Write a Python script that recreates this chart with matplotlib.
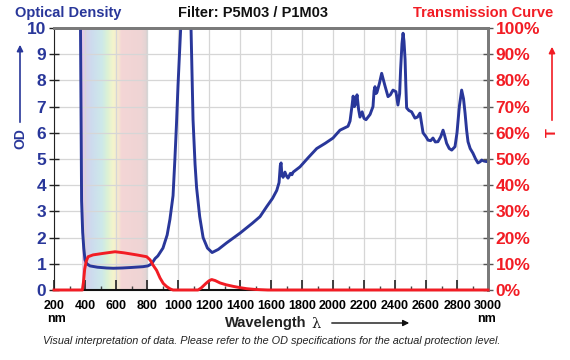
import numpy as np
import matplotlib
matplotlib.use("Agg")
import matplotlib.pyplot as plt
from matplotlib.colors import LinearSegmentedColormap
from matplotlib.patches import FancyArrowPatch

plt.rcParams['font.family'] = ['Liberation Sans', 'DejaVu Sans']

# optical density curve (nm, OD)
od_nm = [365, 371, 378, 385, 392, 400, 412, 432, 480, 540, 582, 640, 700, 774, 806, 830, 852,
         870, 903, 930, 948, 968, 980, 990, 1000, 1017, 1050, 1084, 1097, 1110, 1120, 1140, 1162,
         1190, 1220, 1260, 1314, 1400, 1480, 1529, 1572, 1610, 1637, 1652, 1660, 1665, 1670, 1678,
         1690, 1700, 1710, 1725, 1735, 1743, 1787, 1840, 1895, 1950, 2000, 2045, 2080, 2097, 2110,
         2122, 2130, 2138, 2146, 2155, 2165, 2174, 2188, 2200, 2213, 2239, 2258, 2265, 2271, 2278,
         2284, 2300, 2314, 2335, 2355, 2370, 2387, 2406, 2419, 2430, 2436, 2445, 2452, 2458, 2465,
         2470, 2475, 2490, 2507, 2529, 2545, 2561, 2570, 2581, 2600, 2613, 2630, 2645, 2660, 2677,
         2695, 2710, 2720, 2733, 2750, 2766, 2787, 2800, 2815, 2830, 2842, 2852, 2862, 2871, 2885,
         2903, 2920, 2935, 2950, 2959, 2975, 2991, 3000]
od_val = [14, 10, 3.4, 2.2, 1.6, 1.15, 1.0, 0.92, 0.87, 0.84, 0.83, 0.84, 0.86, 0.89, 0.92, 1.0, 1.2,
          1.3, 1.6, 2.1, 2.7, 3.6, 5.0, 6.3, 7.8, 10, 14, 10, 6.5, 4.8, 3.9, 2.8, 2.0,
          1.6, 1.43, 1.55, 1.8, 2.17, 2.55, 2.8, 3.18, 3.5, 3.8, 4.1, 4.75, 4.85, 4.4, 4.3,
          4.5, 4.35, 4.27, 4.45, 4.4, 4.5, 4.7, 5.05, 5.4, 5.6, 5.8, 6.1, 6.2, 6.25, 6.45,
          7.0, 7.4, 7.0, 7.1, 7.45, 6.9, 6.6, 6.8, 6.55, 6.5, 6.7, 7.0, 7.6, 7.76, 7.5,
          7.55, 7.9, 8.27, 7.8, 7.38, 7.45, 7.63, 7.57, 7.06, 7.5, 8.4, 9.4, 9.8, 9.5, 8.8,
          7.8, 6.95, 6.85, 6.8, 6.56, 6.6, 6.75, 6.4, 6.0, 5.85, 5.72, 5.7, 5.8, 5.65, 5.66,
          5.85, 6.1, 5.9, 5.6, 5.4, 5.34, 5.47, 6.0, 7.0, 7.63, 7.3, 6.75, 6.1, 5.66, 5.4,
          5.22, 5.0, 4.85, 4.9, 4.96, 4.92, 4.9, 4.92]

# transmission curve (nm, %)
t_nm = [200, 383, 390, 398, 408, 420, 452, 520, 594, 650, 733, 798, 820, 839, 862, 884, 905, 927,
        950, 968, 1129, 1150, 1180, 1200, 1217, 1240, 1271, 1310, 1355, 1400, 1443, 1500, 1580, 3000]
t_val = [0, 0, 3, 8, 11, 12.7, 13.4, 14.0, 14.6, 14.2, 13.4, 12.7, 11.5, 9.5, 7.5, 4.6, 2.5, 1.3,
         0.4, 0, 0, 0.8, 2.5, 3.5, 4.0, 3.6, 2.7, 2.0, 1.4, 0.9, 0.5, 0.2, 0, 0]

x_ticks = list(range(200, 3001, 200))
od_ticks = list(range(0, 11))
t_ticks = list(range(0, 101, 10))

navy = '#29379a'
red = '#f21c24'

fig = plt.figure(figsize=(5.7, 3.6), dpi=100)
ax = fig.add_axes([54/570, 70/360, 434/570, 262/360])

# visible spectrum band
spec = LinearSegmentedColormap.from_list('spec', [
    (0.0, '#e8c8e6'), (0.05, '#d8d0ea'), (0.15, '#cddcee'), (0.3, '#cde9ea'),
    (0.38, '#dbf1d6'), (0.47, '#f4f5cc'), (0.55, '#f6e8d0'), (0.6, '#f4d6d6'),
    (0.9, '#efd4d4'), (0.97, '#e4d4d4'), (1.0, '#d6cece')])
ax.imshow(np.linspace(0, 1, 200)[None, :], extent=[380, 800, 0, 10], aspect='auto',
          cmap=spec, zorder=0.2)

ax.plot(od_nm, od_val, color=navy, lw=2.1, zorder=3, solid_joinstyle='round')
ax.set_xlim(200, 3000)
ax.set_ylim(0, 10)
ax.set_xticks(x_ticks)
ax.set_xticks(range(300, 3000, 200), minor=True)
ax.set_yticks(od_ticks)
ax.grid(True, color='#d6d6d6', lw=0.9)
ax.set_axisbelow(True)

for s in ['top', 'right']:
    ax.spines[s].set_color('#7a7a7a')
    ax.spines[s].set_linewidth(2)
ax.spines['left'].set_color('#222222')
ax.spines['bottom'].set_color('#111111')
ax.spines['bottom'].set_linewidth(1.5)

ax.tick_params(axis='x', which='major', direction='in', length=7, width=1.2, color='#222222',
               labelsize=9, pad=7)
ax.tick_params(axis='x', which='minor', direction='in', length=3, width=1, color='#444444')
for lab in ax.get_xticklabels():
    lab.set_fontweight('bold')
ax.tick_params(axis='y', direction='inout', length=7, width=1, color='#222222',
               labelsize=12.5, labelcolor=navy, pad=2)
for lab in ax.get_yticklabels():
    lab.set_fontweight('bold')

ax2 = ax.twinx()
ax2.plot(t_nm, t_val, color=red, lw=2.1, zorder=4, clip_on=False)
ax2.set_ylim(0, 100)
ax2.set_yticks(t_ticks)
ax2.set_yticklabels([f'{v}%' for v in t_ticks])
ax2.tick_params(axis='y', direction='inout', length=7, width=1, color='#555555',
                labelsize=12.5, labelcolor=red, pad=2)
for lab in ax2.get_yticklabels():
    lab.set_fontweight('bold')
for s in ['top', 'right']:
    ax2.spines[s].set_color('#7a7a7a')
    ax2.spines[s].set_linewidth(2)
ax2.spines['left'].set_visible(False)
ax2.spines['bottom'].set_visible(False)

# header texts
fig.text(15/570, 1 - 13/360, 'Optical Density', color=navy, fontsize=10.5, fontweight='bold',
         va='center', ha='left')
fig.text(253/570, 1 - 13/360, 'Filter: P5M03 / P1M03', color='#111111', fontsize=10.5,
         fontweight='bold', va='center', ha='center')
fig.text(553/570, 1 - 13/360, 'Transmission Curve', color=red, fontsize=10.5, fontweight='bold',
         va='center', ha='right')

# axis names with arrows
fig.text(20/570, 1 - 139/360, 'OD', color=navy, fontsize=10, fontweight='bold', rotation=90,
         va='center', ha='center')
fig.patches.append(FancyArrowPatch(
    (20/570, 1 - 125/360), (20/570, 1 - 42/360), transform=fig.transFigure,
    arrowstyle='-|>', mutation_scale=9, color=navy, lw=1.2))
fig.text(552/570, 1 - 133/360, 'T', color=red, fontsize=10.5, fontweight='bold', rotation=90,
         va='center', ha='center')
fig.patches.append(FancyArrowPatch(
    (552/570, 1 - 123/360), (552/570, 1 - 44/360), transform=fig.transFigure,
    arrowstyle='-|>', mutation_scale=9, color=red, lw=1.2))

# bottom labels
fig.text(56/570, 1 - 319/360, 'nm', fontsize=9, fontweight='bold', va='center', ha='center')
fig.text(486/570, 1 - 319/360, 'nm', fontsize=9, fontweight='bold', va='center', ha='center')
fig.text(306/570, 1 - 323/360, 'Wavelength', fontsize=10.5, fontweight='bold', va='center',
         ha='right', color='#222222')
fig.text(316/570, 1 - 324/360, 'λ', fontsize=10.5, va='center', ha='center', color='#222222',
         family='DejaVu Serif')
fig.patches.append(FancyArrowPatch(
    (329/570, 1 - 323/360), (412/570, 1 - 323/360), transform=fig.transFigure,
    arrowstyle='-|>', mutation_scale=9, color='#111111', lw=1))
fig.text(43/570, 1 - 341/360,
         'Visual interpretation of data. Please refer to the OD specifications for the actual protection level.',
         fontsize=7.8, style='italic', va='center', ha='left', color='#222222')

fig.savefig('out.png', dpi=100)
